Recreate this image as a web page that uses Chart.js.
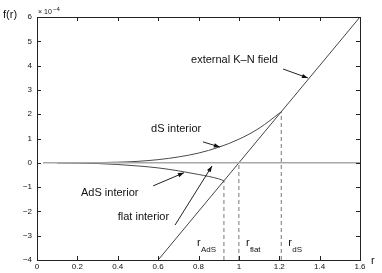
<!DOCTYPE html>
<html>
<head>
<meta charset="utf-8">
<script src="https://cdn.jsdelivr.net/npm/chart.js@4/dist/chart.umd.min.js"></script>
<style>
  html, body { margin: 0; padding: 0; background: #fff; }
  #chart { display: block; }
</style>
</head>
<body>
<canvas id="chart" width="382" height="273"></canvas>
<script>
// values in units of 1e-4 (see "x 10^-4" on the axis)
const xTicks = [0, 0.2, 0.4, 0.6, 0.8, 1.0, 1.2, 1.4, 1.6];
const yTicks = [-4, -3, -2, -1, 0, 1, 2, 3, 4, 5, 6];

const dsR = [0.1, 0.2, 0.3, 0.4, 0.5, 0.6, 0.7, 0.8, 0.9, 1.0, 1.1, 1.21];
const dsF = [0, 0.002, 0.008, 0.025, 0.06, 0.13, 0.24, 0.40, 0.64, 0.97, 1.42, 2.1];

const adsR = [0.1, 0.2, 0.3, 0.4, 0.5, 0.6, 0.7, 0.8, 0.9, 0.926];
const adsF = [0, -0.01, -0.03, -0.07, -0.13, -0.21, -0.33, -0.48, -0.66, -0.74];

const flatR = [0.03, 1.6];
const flatF = [0, 0];

const knR = [0.6, 1.6];
const knF = [-4, 6];

// matching radii (where each interior meets the external field)
const matchNames = ['AdS', 'flat', 'dS'];
const matchR = [0.926, 1.0, 1.21];
const matchF = [-0.74, 0, 2.1];

function pts(xs, ys) {
  return xs.map((x, i) => ({ x: x, y: ys[i] }));
}

const ctx = document.getElementById('chart').getContext('2d');
const FONT = '"Liberation Sans", Arial, Helvetica, sans-serif';

// text labels and arrows, placed in data units
const notes = [
  { text: 'external K\u2013N field', r: 0.763, f: 4.23, from: [1.219, 3.86], to: [1.342, 3.49] },
  { text: 'dS interior', r: 0.565, f: 1.39, from: [0.822, 0.86], to: [0.906, 0.65] },
  { text: 'AdS interior', r: 0.218, f: -1.24, from: [0.575, -0.95], to: [0.728, -0.41] },
  { text: 'flat interior', r: 0.40, f: -2.23, from: [0.684, -2.56], to: [0.867, -0.13] }
];

function arrow(c, x1, y1, x2, y2) {
  c.beginPath();
  c.moveTo(x1, y1);
  c.lineTo(x2, y2);
  c.stroke();
  const a = Math.atan2(y2 - y1, x2 - x1);
  const L = 6, W = 2.2;
  c.beginPath();
  c.moveTo(x2, y2);
  c.lineTo(x2 - L * Math.cos(a) + W * Math.sin(a), y2 - L * Math.sin(a) - W * Math.cos(a));
  c.lineTo(x2 - L * Math.cos(a) - W * Math.sin(a), y2 - L * Math.sin(a) + W * Math.cos(a));
  c.closePath();
  c.fill();
}

const frame = {
  id: 'frame',
  afterDraw(chart) {
    const c = chart.ctx;
    const a = chart.chartArea;
    const sx = chart.scales.x, sy = chart.scales.y;
    c.save();
    // box
    c.strokeStyle = '#222';
    c.lineWidth = 1;
    c.strokeRect(Math.round(a.left) + 0.5, Math.round(a.top) + 0.5,
                 Math.round(a.right - a.left), Math.round(a.bottom - a.top));
    // inward ticks
    c.beginPath();
    xTicks.forEach(v => {
      const px = Math.round(sx.getPixelForValue(v)) + 0.5;
      c.moveTo(px, a.bottom); c.lineTo(px, a.bottom - 4);
      c.moveTo(px, a.top); c.lineTo(px, a.top + 4);
    });
    yTicks.forEach(v => {
      const py = Math.round(sy.getPixelForValue(v)) + 0.5;
      c.moveTo(a.left, py); c.lineTo(a.left + 4, py);
      c.moveTo(a.right, py); c.lineTo(a.right - 4, py);
    });
    c.stroke();

    // notes with arrows
    c.fillStyle = '#111';
    c.strokeStyle = '#222';
    c.font = '11px ' + FONT;
    c.textBaseline = 'middle';
    c.textAlign = 'left';
    notes.forEach(n => {
      c.fillText(n.text, sx.getPixelForValue(n.r), sy.getPixelForValue(n.f));
      arrow(c, sx.getPixelForValue(n.from[0]), sy.getPixelForValue(n.from[1]),
               sx.getPixelForValue(n.to[0]), sy.getPixelForValue(n.to[1]));
    });

    // r_AdS, r_flat, r_dS labels
    matchNames.forEach((name, i) => {
      const px = sx.getPixelForValue(matchR[i]) - 27 + (i === 0 ? 0 : 34);
      const py = sy.getPixelForValue(-3.3);
      c.font = '11px ' + FONT;
      c.fillText('r', px, py);
      c.font = '8px ' + FONT;
      c.fillText(name, px + 4, py + 7);
    });

    // axis titles
    c.font = '11px ' + FONT;
    c.fillText('f(r)', 3, 15);
    c.fillText('r', 371, 261);
    c.font = '7px ' + FONT;
    c.fillText('\u00d7 10', 38, 12);
    c.font = '6px ' + FONT;
    c.fillText('\u22124', 53, 9);
    c.restore();
  }
};

const chart = new Chart(ctx, {
  type: 'line',
  data: {
    datasets: [
      { label: 'flat interior', data: pts(flatR, flatF), borderColor: '#a8a8a8', borderWidth: 1.6 },
      { label: 'dS interior', data: pts(dsR, dsF), borderColor: '#4a4a4a', borderWidth: 1, cubicInterpolationMode: 'monotone' },
      { label: 'AdS interior', data: pts(adsR, adsF), borderColor: '#4a4a4a', borderWidth: 1, cubicInterpolationMode: 'monotone' },
      { label: 'external K-N field', data: pts(knR, knF), borderColor: '#444', borderWidth: 1 },
      ...matchR.map((r, i) => ({
        label: 'r_' + matchNames[i],
        data: pts([r, r], [-4, matchF[i]]),
        borderColor: '#777', borderWidth: 1, borderDash: [4, 3]
      }))
    ]
  },
  options: {
    responsive: false,
    animation: false,
    events: [],
    parsing: false,
    elements: { point: { radius: 0 }, line: { fill: false } },
    layout: { padding: { left: 0, top: 17, right: 22, bottom: 0 } },
    plugins: { legend: { display: false }, tooltip: { enabled: false } },
    scales: {
      x: {
        type: 'linear', min: 0, max: 1.6,
        afterBuildTicks: s => { s.ticks = xTicks.map(v => ({ value: v })); },
        afterFit: s => { s.height = 13; },
        grid: { display: false, drawTicks: false },
        border: { display: false },
        ticks: {
          autoSkip: false, maxRotation: 0, padding: 2, color: '#111',
          font: { size: 8, family: FONT },
          callback: v => String(+v.toFixed(1))
        }
      },
      y: {
        type: 'linear', min: -4, max: 6,
        afterBuildTicks: s => { s.ticks = yTicks.map(v => ({ value: v })); },
        afterFit: s => { s.width = 37; },
        grid: { display: false, drawTicks: false },
        border: { display: false },
        ticks: {
          autoSkip: false, padding: 5, color: '#111',
          font: { size: 8, family: FONT },
          callback: v => (v < 0 ? '\u2212' + Math.abs(v) : String(v))
        }
      }
    }
  },
  plugins: [frame]
});
</script>
</body>
</html>
